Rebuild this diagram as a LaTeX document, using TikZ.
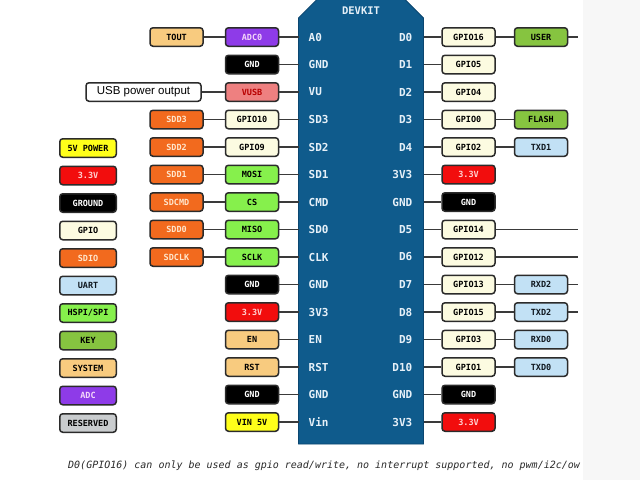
\documentclass[tikz,border=0pt]{standalone}
\usepackage{fontspec}
\newfontfamily\monofont{DejaVu Sans Mono}
\newfontfamily\labelfont{Liberation Sans}
\usepackage{tikz}
\usetikzlibrary{positioning}

\definecolor{boxline}{HTML}{2B2B2B}
\definecolor{wireline}{HTML}{3A3A3A}
\definecolor{chipblue}{HTML}{0F5B8C}
\definecolor{chipedge}{HTML}{0B4670}
\definecolor{pinwhite}{HTML}{E6F0F8}
\definecolor{panelgray}{HTML}{F7F7F7}
\definecolor{sysfill}{HTML}{F8CB7F}
\definecolor{adcfill}{HTML}{8E3BE8}
\definecolor{adctext}{HTML}{F4D6FA}
\definecolor{vusbfill}{HTML}{EE8080}
\definecolor{vusbtext}{HTML}{B80000}
\definecolor{gpiofill}{HTML}{FCFBE1}
\definecolor{sdiofill}{HTML}{F26A1E}
\definecolor{sdiotext}{HTML}{FFE6CC}
\definecolor{spifill}{HTML}{86F04C}
\definecolor{voltfill}{HTML}{F20D0D}
\definecolor{volttext}{HTML}{FFD0D0}
\definecolor{keyfill}{HTML}{86C440}
\definecolor{uartfill}{HTML}{C2E1F5}
\definecolor{uarttext}{HTML}{101820}
\definecolor{powerfill}{HTML}{FFFF1A}
\definecolor{resfill}{HTML}{C9CCCE}
\definecolor{notetext}{HTML}{2A2A2A}

\begin{document}
\begin{tikzpicture}[x=1pt,y=-1pt,node distance=27.5pt,
  pin box/.style={draw=boxline,line width=1.5pt,rounded corners=3pt,minimum width=53pt,
    minimum height=18.5pt,inner sep=0pt,font=\monofont\bfseries\fontsize{8.5}{10}\selectfont},
  legend box/.style={pin box,minimum width=56.5pt},
  sys/.style={fill=sysfill,text=black},
  adc/.style={fill=adcfill,text=adctext},
  gnd/.style={fill=black,text=white},
  vusb/.style={fill=vusbfill,text=vusbtext},
  gpio/.style={fill=gpiofill,text=black},
  sdio/.style={fill=sdiofill,text=sdiotext},
  spi/.style={fill=spifill,text=black},
  volt/.style={fill=voltfill,text=volttext},
  key/.style={fill=keyfill,text=black},
  uart/.style={fill=uartfill,text=uarttext},
  power/.style={fill=powerfill,text=black},
  reserved/.style={fill=resfill,text=black},
  wire/.style={draw=wireline,line width=1.4pt},
  chip/.style={rectangle,minimum width=125pt,minimum height=446pt,inner sep=0pt,outer sep=0pt},
  pin text/.style={text=pinwhite,inner sep=0pt,font=\monofont\bfseries\fontsize{11}{12}\selectfont},
  pin left/.style={pin text,anchor=west,xshift=10pt},
  pin right/.style={pin text,anchor=east,xshift=-11pt}]

  \useasboundingbox (0,0) rectangle (640,480);
  \fill[white] (0,0) rectangle (640,480);
  \fill[panelgray] (583,0) rectangle (640,480);

  % board
  \node[chip] (chip) at (361,221) {};
  \filldraw[fill=chipblue,draw=chipedge,line width=0.8pt]
    ([yshift=-20pt]chip.north west) -- ([xshift=20pt]chip.north west)
    -- ([xshift=-20pt]chip.north east) -- ([yshift=-20pt]chip.north east)
    -- (chip.south east) -- (chip.south west) -- cycle;
  \node[pin text,font=\monofont\bfseries\fontsize{10.5}{12}\selectfont] (devkit) at (361,11) {DEVKIT};
  \coordinate (rim) at (578,0);

  % left column
  \node[pin box,adc] (l0) at (252,37) {ADC0};
  \node[pin box,gnd] (l1) [below of=l0] {GND};
  \node[pin box,vusb] (l2) [below of=l1] {VUSB};
  \node[pin box,gpio] (l3) [below of=l2] {GPIO10};
  \node[pin box,gpio] (l4) [below of=l3] {GPIO9};
  \node[pin box,spi] (l5) [below of=l4] {MOSI};
  \node[pin box,spi] (l6) [below of=l5] {CS};
  \node[pin box,spi] (l7) [below of=l6] {MISO};
  \node[pin box,spi] (l8) [below of=l7] {SCLK};
  \node[pin box,gnd] (l9) [below of=l8] {GND};
  \node[pin box,volt] (l10) [below of=l9] {3.3V};
  \node[pin box,sys] (l11) [below of=l10] {EN};
  \node[pin box,sys] (l12) [below of=l11] {RST};
  \node[pin box,gnd] (l13) [below of=l12] {GND};
  \node[pin box,power] (l14) [below of=l13] {VIN 5V};

  \node[pin box,sys] (tout) [left=21pt of l0] {TOUT};
  \node[pin box,fill=white,minimum width=115pt,font=\labelfont\fontsize{11.5}{13}\selectfont]
    (usb) [left=23pt of l2] {USB power output};
  \node[pin box,sdio] (sdd3) [left=21pt of l3] {SDD3};
  \node[pin box,sdio] (sdd2) [left=21pt of l4] {SDD2};
  \node[pin box,sdio] (sdd1) [left=21pt of l5] {SDD1};
  \node[pin box,sdio] (sdcmd) [left=21pt of l6] {SDCMD};
  \node[pin box,sdio] (sdd0) [left=21pt of l7] {SDD0};
  \node[pin box,sdio] (sdclk) [left=21pt of l8] {SDCLK};

  % legend
  \node[legend box,power] (k4) at (88,148) {5V POWER};
  \node[legend box,volt] (k5) [below of=k4] {3.3V};
  \node[legend box,gnd] (k6) [below of=k5] {GROUND};
  \node[legend box,gpio] (k7) [below of=k6] {GPIO};
  \node[legend box,sdio] (k8) [below of=k7] {SDIO};
  \node[legend box,uart] (k9) [below of=k8] {UART};
  \node[legend box,spi] (k10) [below of=k9] {HSPI/SPI};
  \node[legend box,key] (k11) [below of=k10] {KEY};
  \node[legend box,sys] (k12) [below of=k11] {SYSTEM};
  \node[legend box,adc] (k13) [below of=k12] {ADC};
  \node[legend box,reserved] (k14) [below of=k13] {RESERVED};

  % right column
  \node[pin box,gpio] (r0) at (468.5,37) {GPIO16};
  \node[pin box,gpio] (r1) [below of=r0] {GPIO5};
  \node[pin box,gpio] (r2) [below of=r1] {GPIO4};
  \node[pin box,gpio] (r3) [below of=r2] {GPIO0};
  \node[pin box,gpio] (r4) [below of=r3] {GPIO2};
  \node[pin box,volt] (r5) [below of=r4] {3.3V};
  \node[pin box,gnd] (r6) [below of=r5] {GND};
  \node[pin box,gpio] (r7) [below of=r6] {GPIO14};
  \node[pin box,gpio] (r8) [below of=r7] {GPIO12};
  \node[pin box,gpio] (r9) [below of=r8] {GPIO13};
  \node[pin box,gpio] (r10) [below of=r9] {GPIO15};
  \node[pin box,gpio] (r11) [below of=r10] {GPIO3};
  \node[pin box,gpio] (r12) [below of=r11] {GPIO1};
  \node[pin box,gnd] (r13) [below of=r12] {GND};
  \node[pin box,volt] (r14) [below of=r13] {3.3V};

  \node[pin box,key] (user) [right=18pt of r0] {USER};
  \node[pin box,key] (flash) [right=18pt of r3] {FLASH};
  \node[pin box,uart] (txd1) [right=18pt of r4] {TXD1};
  \node[pin box,uart] (rxd2) [right=18pt of r9] {RXD2};
  \node[pin box,uart] (txd2) [right=18pt of r10] {TXD2};
  \node[pin box,uart] (rxd0) [right=18pt of r11] {RXD0};
  \node[pin box,uart] (txd0) [right=18pt of r12] {TXD0};

  % pin names on the board
  \node[pin left] (pa0) at (chip.west |- l0) {A0};
  \node[pin left] (pgnd1) at (chip.west |- l1) {GND};
  \node[pin left] (pvu) at (chip.west |- l2) {VU};
  \node[pin left] (psd3) at (chip.west |- l3) {SD3};
  \node[pin left] (psd2) at (chip.west |- l4) {SD2};
  \node[pin left] (psd1) at (chip.west |- l5) {SD1};
  \node[pin left] (pcmd) at (chip.west |- l6) {CMD};
  \node[pin left] (psd0) at (chip.west |- l7) {SD0};
  \node[pin left] (pclk) at (chip.west |- l8) {CLK};
  \node[pin left] (pgnd2) at (chip.west |- l9) {GND};
  \node[pin left] (p3v3a) at (chip.west |- l10) {3V3};
  \node[pin left] (pen) at (chip.west |- l11) {EN};
  \node[pin left] (prst) at (chip.west |- l12) {RST};
  \node[pin left] (pgnd3) at (chip.west |- l13) {GND};
  \node[pin left] (pvin) at (chip.west |- l14) {Vin};

  \node[pin right] (pd0) at (chip.east |- r0) {D0};
  \node[pin right] (pd1) at (chip.east |- r1) {D1};
  \node[pin right] (pd2) at (chip.east |- r2) {D2};
  \node[pin right] (pd3) at (chip.east |- r3) {D3};
  \node[pin right] (pd4) at (chip.east |- r4) {D4};
  \node[pin right] (p3v3b) at (chip.east |- r5) {3V3};
  \node[pin right] (pgnd4) at (chip.east |- r6) {GND};
  \node[pin right] (pd5) at (chip.east |- r7) {D5};
  \node[pin right] (pd6) at (chip.east |- r8) {D6};
  \node[pin right] (pd7) at (chip.east |- r9) {D7};
  \node[pin right] (pd8) at (chip.east |- r10) {D8};
  \node[pin right] (pd9) at (chip.east |- r11) {D9};
  \node[pin right] (pd10) at (chip.east |- r12) {D10};
  \node[pin right] (pgnd5) at (chip.east |- r13) {GND};
  \node[pin right] (p3v3c) at (chip.east |- r14) {3V3};

  % wires
  \path[wire]
    (l0) edge (l0 -| chip.west) (l1) edge (l1 -| chip.west) (l2) edge (l2 -| chip.west)
    (l3) edge (l3 -| chip.west) (l4) edge (l4 -| chip.west) (l5) edge (l5 -| chip.west)
    (l6) edge (l6 -| chip.west) (l7) edge (l7 -| chip.west) (l8) edge (l8 -| chip.west)
    (l9) edge (l9 -| chip.west) (l10) edge (l10 -| chip.west) (l11) edge (l11 -| chip.west)
    (l12) edge (l12 -| chip.west) (l13) edge (l13 -| chip.west) (l14) edge (l14 -| chip.west)
    (tout) edge (l0) (usb) edge (l2) (sdd3) edge (l3) (sdd2) edge (l4)
    (sdd1) edge (l5) (sdcmd) edge (l6) (sdd0) edge (l7) (sdclk) edge (l8);
  \path[wire]
    (r0) edge (r0 -| chip.east) (r1) edge (r1 -| chip.east) (r2) edge (r2 -| chip.east)
    (r3) edge (r3 -| chip.east) (r4) edge (r4 -| chip.east) (r5) edge (r5 -| chip.east)
    (r6) edge (r6 -| chip.east) (r7) edge (r7 -| chip.east) (r8) edge (r8 -| chip.east)
    (r9) edge (r9 -| chip.east) (r10) edge (r10 -| chip.east) (r11) edge (r11 -| chip.east)
    (r12) edge (r12 -| chip.east) (r13) edge (r13 -| chip.east) (r14) edge (r14 -| chip.east)
    (r0) edge (user) (r3) edge (flash) (r4) edge (txd1) (r9) edge (rxd2)
    (r10) edge (txd2) (r11) edge (rxd0) (r12) edge (txd0)
    (user) edge (user -| rim) (r7) edge (r7 -| rim) (r8) edge (r8 -| rim)
    (rxd2) edge (rxd2 -| rim) (txd2) edge (txd2 -| rim);

  % note below the board
  \begin{scope}
    \clip (0,445) rectangle (581,480);
    \node[anchor=west,inner sep=0pt,text=notetext,font=\monofont\itshape\fontsize{10}{12}\selectfont]
      (note) at (68,466) {D0(GPIO16) can only be used as gpio read/write, no interrupt supported, no pwm/i2c/ow};
  \end{scope}
\end{tikzpicture}
\end{document}
